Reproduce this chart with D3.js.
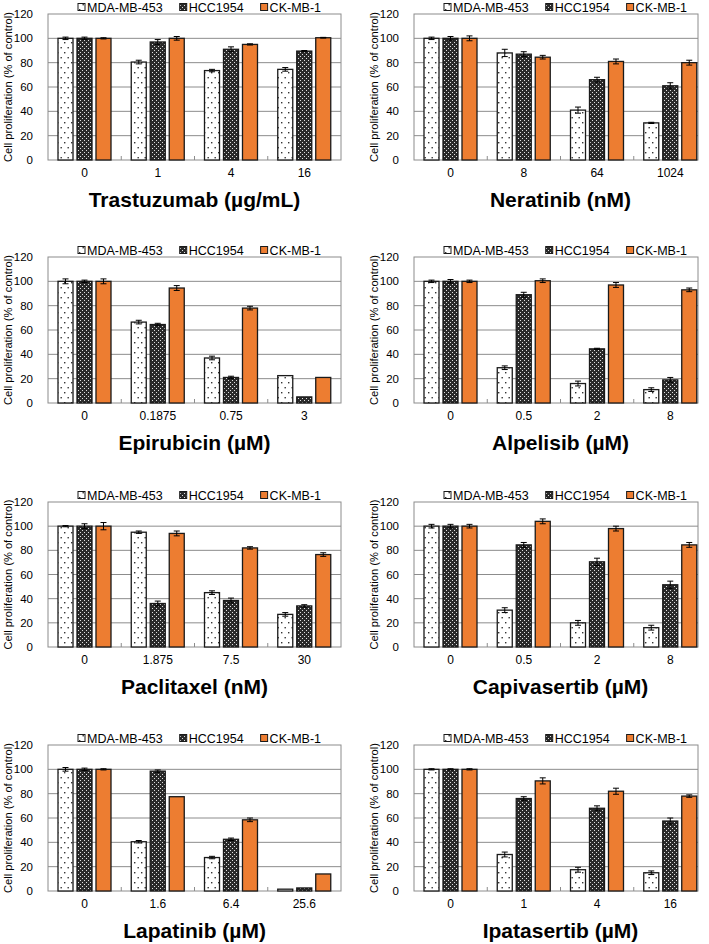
<!DOCTYPE html>
<html>
<head>
<meta charset="utf-8">
<script src="https://cdn.jsdelivr.net/npm/d3@7"></script>
<style>
  html, body { margin: 0; padding: 0; background: #fff; }
  svg { display: block; font-family: "Liberation Sans", Arial, sans-serif; }
</style>
</head>
<body>
<svg id="chart" width="709" height="944"></svg>
<script>
// ---------- DATA ----------
const cellLines = ["MDA-MB-453", "HCC1954", "CK-MB-1"];
const drugTitles = [
  "Trastuzumab (µg/mL)", "Neratinib (nM)",
  "Epirubicin (µM)", "Alpelisib (µM)",
  "Paclitaxel (nM)", "Capivasertib (µM)",
  "Lapatinib (µM)", "Ipatasertib (µM)"
];
const doseLabels = [
  ["0", "1", "4", "16"],
  ["0", "8", "64", "1024"],
  ["0", "0.1875", "0.75", "3"],
  ["0", "0.5", "2", "8"],
  ["0", "1.875", "7.5", "30"],
  ["0", "0.5", "2", "8"],
  ["0", "1.6", "6.4", "25.6"],
  ["0", "1", "4", "16"]
];
const yTicks = [0, 20, 40, 60, 80, 100, 120];

const mdaValues = [
  [100, 80.5, 73.5, 74.5],
  [100, 88, 41, 30.5],
  [100, 66.5, 37, 22.5],
  [100, 29, 16, 11],
  [100, 95, 45, 27],
  [100, 30.5, 20, 16],
  [100, 40.5, 27.5, 1.5],
  [100, 30, 17.5, 15]
];
const hccValues = [
  [100, 97, 91, 89.5],
  [100, 87, 66, 61],
  [100, 64.5, 21, 5],
  [100, 89, 44.5, 19],
  [100, 36, 38.5, 34],
  [100, 84.5, 70.5, 51.5],
  [100, 98.5, 42.5, 2.5],
  [100, 76, 68, 57.5]
];
const ckValues = [
  [100, 100, 95, 100.5],
  [100, 84.5, 81, 80],
  [100, 94.5, 78, 21],
  [100, 100.5, 97, 93],
  [100, 94, 82, 76.5],
  [100, 104, 98, 84.5],
  [100, 77.5, 58.5, 14],
  [100, 90.5, 82, 78]
];
const mdaErrors = [
  [1, 1.5, 1, 1.5],
  [1, 3, 2.5, 0.5],
  [2, 1.5, 1.5, 0],
  [1, 1.5, 2, 1.5],
  [0.5, 1, 1.5, 1.5],
  [1.5, 2, 2, 2],
  [1.5, 1, 1, 0],
  [0.5, 2, 2, 1.5]
];
const hccErrors = [
  [1, 2, 2, 0.5],
  [1.5, 2, 2, 2.5],
  [1, 1, 1, 0],
  [1.5, 2, 0.5, 2],
  [2, 2, 2, 1],
  [1.5, 2, 3, 3],
  [1, 1, 1, 0],
  [0.5, 1.5, 2, 2.5]
];
const ckErrors = [
  [0.5, 1.5, 0.5, 0.3],
  [2, 1.5, 2, 2],
  [2, 2, 1.5, 0],
  [1, 1.5, 2, 1.5],
  [3, 2, 1, 1.5],
  [1.5, 2, 2, 2],
  [0.5, 0, 1.5, 0],
  [0.5, 2.5, 2.5, 1]
];

// ---------- LAYOUT ----------
const svg = d3.select("#chart");
const colX = [48, 414];          // plot left edge per column
const bandWidthTotal = 293;      // category axis length
const frameRight = [341, 698];   // visible frame right edge
const rowTop = [14, 257, 502, 745];
const rowBottom = [160, 403, 647, 891];
const orange = "#ED7D31";

// patterns
const defs = svg.append("defs");
const pDots = defs.append("pattern").attr("id", "dots")
  .attr("patternUnits", "userSpaceOnUse").attr("width", 7).attr("height", 10);
pDots.append("rect").attr("width", 7).attr("height", 10).attr("fill", "#fff");
pDots.append("rect").attr("x", 1).attr("y", 2).attr("width", 1.4).attr("height", 1.4).attr("fill", "#333");
pDots.append("rect").attr("x", 4.5).attr("y", 7).attr("width", 1.4).attr("height", 1.4).attr("fill", "#333");

const pCheck = defs.append("pattern").attr("id", "check")
  .attr("patternUnits", "userSpaceOnUse").attr("width", 4).attr("height", 4);
pCheck.append("rect").attr("width", 4).attr("height", 4).attr("fill", "#2a2a2a");
pCheck.append("rect").attr("x", 0).attr("y", 0).attr("width", 1).attr("height", 1).attr("fill", "#e0e0e0");
pCheck.append("rect").attr("x", 2).attr("y", 2).attr("width", 1).attr("height", 1).attr("fill", "#e0e0e0");

const fills = ["url(#dots)", "url(#check)", orange];

function drawPanel(i) {
  const col = i % 2, row = Math.floor(i / 2);
  const x0 = colX[col], xr = frameRight[col];
  const yTop = rowTop[row], yBot = rowBottom[row];
  const g = svg.append("g");

  const x = d3.scaleBand().domain(doseLabels[i]).range([x0, x0 + bandWidthTotal]);
  const xs = d3.scaleBand().domain(cellLines).range([10, 63]).paddingInner(0.21);
  const y = d3.scaleLinear().domain([0, 120]).range([yBot, yTop]);

  // gridlines
  g.selectAll("line.grid").data(yTicks.filter(t => t > 0 && t < 120)).enter()
    .append("line").attr("x1", x0).attr("x2", xr)
    .attr("y1", d => y(d)).attr("y2", d => y(d))
    .attr("stroke", "#8c8c8c").attr("stroke-width", 1);

  // frame
  g.append("rect").attr("x", x0).attr("y", y(120)).attr("width", xr - x0).attr("height", y(0) - y(120))
    .attr("fill", "none").attr("stroke", "#8c8c8c").attr("stroke-width", 1);

  // category tick marks (inside)
  g.selectAll("line.ctick").data(doseLabels[i].slice(1)).enter()
    .append("line").attr("x1", d => x(d)).attr("x2", d => x(d))
    .attr("y1", y(0)).attr("y2", y(0) - 4)
    .attr("stroke", "#8c8c8c").attr("stroke-width", 1);

  // y tick labels
  g.selectAll("text.ytick").data(yTicks).enter().append("text")
    .attr("x", x0 - 15).attr("y", d => y(d)).attr("dy", "0.36em")
    .attr("text-anchor", "end").attr("font-size", "11.5px").attr("fill", "#000")
    .text(d => d);

  // y axis title
  g.append("text")
    .attr("transform", `translate(${x0 - 40},${(y(0) + y(120)) / 2}) rotate(-90)`)
    .attr("text-anchor", "middle").attr("dy", "0.35em")
    .attr("font-size", "10px").attr("fill", "#000")
    .attr("textLength", 150).attr("lengthAdjust", "spacingAndGlyphs")
    .text("Cell proliferation (% of control)");

  // category labels
  g.selectAll("text.xlab").data(doseLabels[i]).enter().append("text")
    .attr("x", d => x(d) + x.bandwidth() / 2).attr("y", y(0) + 13).attr("dy", "0.36em")
    .attr("text-anchor", "middle").attr("font-size", "12px").attr("fill", "#000")
    .text(d => d);

  // title
  g.append("text")
    .attr("x", x0 + bandWidthTotal / 2).attr("y", y(0) + 39).attr("dy", "0.36em")
    .attr("text-anchor", "middle").attr("font-size", "21px").attr("font-weight", "bold")
    .attr("fill", "#000").text(drugTitles[i]);

  // bars
  const valueSets = [mdaValues[i], hccValues[i], ckValues[i]];
  const errSets = [mdaErrors[i], hccErrors[i], ckErrors[i]];
  const barData = [];
  doseLabels[i].forEach((dose, j) => {
    cellLines.forEach((cl, k) => {
      barData.push({ dose, cl, k, v: valueSets[k][j], e: errSets[k][j] });
    });
  });

  g.selectAll("rect.bar").data(barData).enter().append("rect")
    .attr("x", d => x(d.dose) + xs(d.cl))
    .attr("y", d => y(d.v))
    .attr("width", xs.bandwidth())
    .attr("height", d => y(0) - y(d.v))
    .attr("fill", d => fills[d.k])
    .attr("stroke", "#1a1a1a").attr("stroke-width", 1.3);

  // error bars
  const eb = g.selectAll("g.err").data(barData.filter(d => d.e > 0)).enter().append("g");
  eb.append("line")
    .attr("x1", d => x(d.dose) + xs(d.cl) + xs.bandwidth() / 2)
    .attr("x2", d => x(d.dose) + xs(d.cl) + xs.bandwidth() / 2)
    .attr("y1", d => y(d.v - d.e)).attr("y2", d => y(d.v + d.e))
    .attr("stroke", "#000").attr("stroke-width", 1);
  [1, -1].forEach(s => {
    eb.append("line")
      .attr("x1", d => x(d.dose) + xs(d.cl) + xs.bandwidth() / 2 - 3)
      .attr("x2", d => x(d.dose) + xs(d.cl) + xs.bandwidth() / 2 + 3)
      .attr("y1", d => y(d.v + s * d.e)).attr("y2", d => y(d.v + s * d.e))
      .attr("stroke", "#000").attr("stroke-width", 1);
  });

  // legend
  const lg = g.append("g").attr("transform", `translate(${x0 + 30},${yTop - 7})`);
  let cx = 0;
  cellLines.forEach((cl, k) => {
    lg.append("rect").attr("x", cx).attr("y", -3.5).attr("width", 7).attr("height", 7)
      .attr("fill", fills[k]).attr("stroke", "#1a1a1a").attr("stroke-width", 1);
    const t = lg.append("text").attr("x", cx + 9).attr("y", 0).attr("dy", "0.36em")
      .attr("font-size", "12.5px").attr("fill", "#000").text(cl);
    cx += 9 + t.node().getComputedTextLength() + 17;
  });
}

for (let i = 0; i < 8; i++) drawPanel(i);
</script>
</body>
</html>
